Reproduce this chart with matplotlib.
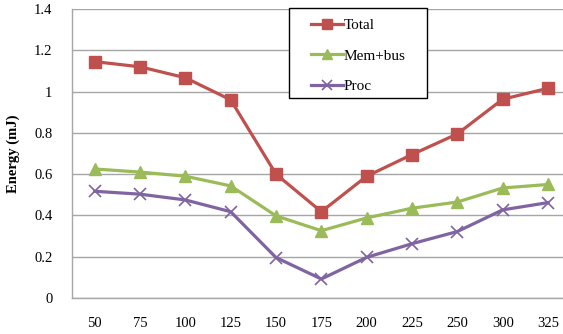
import matplotlib
matplotlib.use("Agg")
import matplotlib.pyplot as plt
from matplotlib.patches import Rectangle

categories = ["50", "75", "100", "125", "150", "175", "200", "225", "250", "300", "325"]
total = [1.145, 1.12, 1.067, 0.96, 0.60, 0.418, 0.59, 0.695, 0.795, 0.963, 1.016]
mem_bus = [0.625, 0.61, 0.59, 0.543, 0.398, 0.326, 0.388, 0.435, 0.465, 0.533, 0.550]
proc = [0.517, 0.503, 0.475, 0.418, 0.196, 0.092, 0.197, 0.263, 0.322, 0.427, 0.462]
yticks = [0, 0.2, 0.4, 0.6, 0.8, 1.0, 1.2, 1.4]
ytick_labels = ["0", "0.2", "0.4", "0.6", "0.8", "1", "1.2", "1.4"]

plt.rcParams["font.family"] = ["Liberation Serif", "DejaVu Serif"]

W, H = 563, 334
fig = plt.figure(figsize=(W / 100, H / 100), dpi=100)
ax = fig.add_axes([72 / W, 1 - 298 / H, (570.7 - 72) / W, (298 - 9) / H])

x = list(range(len(categories)))
ax.plot(x, total, color="#C0504D", lw=2.3, marker="s", ms=8.5, label="Total")
ax.plot(x, mem_bus, color="#9BBB59", lw=2.3, marker="^", ms=8.5, label="Mem+bus")
ax.plot(x, proc, color="#8064A2", lw=2.3, marker="x", ms=8, mew=1.2, label="Proc")

ax.set_xlim(-0.5, len(categories) - 0.5)
ax.set_ylim(0, 1.4)
ax.set_xticks(x)
ax.set_xticklabels(categories, fontsize=10.5)
ax.set_yticks(yticks)
ax.set_yticklabels(ytick_labels, fontsize=10.5)
ax.tick_params(axis="both", length=0)
ax.tick_params(axis="x", pad=14)
ax.tick_params(axis="y", pad=14)

ax.grid(axis="y", color="#a6a6a6", lw=1)
ax.set_axisbelow(True)
for side in ("top", "right"):
    ax.spines[side].set_visible(False)
for side in ("left", "bottom"):
    ax.spines[side].set_color("#a6a6a6")
    ax.spines[side].set_linewidth(1)

ax.set_ylabel("Energy (mJ)", fontsize=10.5, fontweight="bold", labelpad=10)

# legend entries without frame, boxed by a separate rectangle
leg = fig.legend(loc="upper left", bbox_to_anchor=(311 / W, 1 - 18.5 / H),
                 fontsize=11, frameon=False, handlelength=2.1,
                 labelspacing=1.1, borderpad=0, handletextpad=0.05,
                 borderaxespad=0, markerscale=0.85)
fig.add_artist(Rectangle((289 / W, 1 - 98 / H), (427 - 289) / W, (98 - 8) / H,
                         transform=fig.transFigure, facecolor="white",
                         edgecolor="black", lw=1, zorder=leg.get_zorder() - 0.1))

fig.savefig("out.png", dpi=100)
